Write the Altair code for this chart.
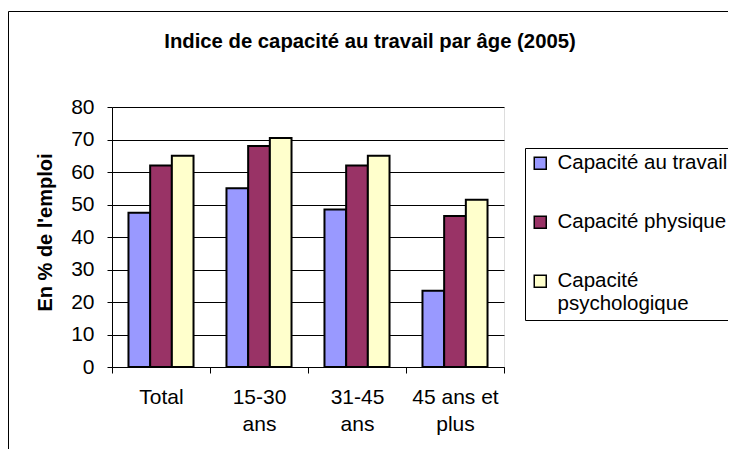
import altair as alt
import pandas as pd

categories = ["Total", "15-30 ans", "31-45 ans", "45 ans et plus"]
series = ["Capacité au travail", "Capacité physique", "Capacité psychologique"]
travail = [47.5, 55, 48.5, 23.5]
physique = [62, 68, 62, 46.5]
psycho = [65, 70.5, 65, 51.5]
colors = ["#9999FF", "#993366", "#FFFFCC"]
y_ticks = [0, 10, 20, 30, 40, 50, 60, 70, 80]

rows = []
for s, vals in zip(series, [travail, physique, psycho]):
    for c, v in zip(categories, vals):
        rows.append({"cat": c, "serie": s, "val": v})
df = pd.DataFrame(rows)

FONT = "Liberation Sans"
FS = 21

bars = alt.Chart(df).mark_bar(stroke="black", strokeWidth=2).encode(
    x=alt.X("cat:N", sort=categories, title=None,
            scale=alt.Scale(paddingInner=0, paddingOuter=0),
            axis=alt.Axis(labelAngle=0, tickBand="extent", tickSize=6, labelPadding=13,
                          labelFontSize=FS, labelFont=FONT, labelColor="black",
                          domainColor="black", tickColor="black", labelLineHeight=27,
                          labelExpr="datum.label == '15-30 ans' ? ['15-30','ans'] : datum.label == '31-45 ans' ? ['31-45','ans'] : datum.label == '45 ans et plus' ? ['45 ans et','plus'] : datum.label")),
    xOffset=alt.XOffset("serie:N", sort=series,
                        scale=alt.Scale(paddingOuter=0.76, paddingInner=0)),
    y=alt.Y("val:Q", title="En % de l'emploi",
            scale=alt.Scale(domain=[0, 80], nice=False),
            axis=alt.Axis(values=y_ticks, tickSize=5, labelPadding=13,
                          labelFontSize=FS, labelFont=FONT, labelColor="black",
                          titleFontSize=20, titleFont=FONT, titleFontWeight="bold",
                          titleColor="black", titleX=-57, titleY=125,
                          domainColor="black", tickColor="black",
                          grid=True, gridColor="black", gridWidth=1, gridOpacity=1)),
    color=alt.Color("serie:N", sort=series,
                    scale=alt.Scale(domain=series, range=colors),
                    legend=alt.Legend(title=None, orient="none", legendX=413, legendY=41,
                                      labelFontSize=20.5, labelFont=FONT, labelColor="black",
                                      symbolType="square", symbolSize=144,
                                      symbolStrokeColor="black", symbolStrokeWidth=1.5,
                                      labelLimit=400, labelOffset=7, rowPadding=38,
                                      padding=5, strokeColor="black", fillColor="white",
                                      labelExpr="datum.label == 'Capacité psychologique' ? ['Capacité', 'psychologique'] : datum.label")),
)

border_v = alt.Chart(pd.DataFrame({"a": [0]})).mark_rule(color="black", strokeWidth=1).encode(
    x=alt.value(-103.5), y=alt.value(-95.5), y2=alt.value(400))
border_h = alt.Chart(pd.DataFrame({"a": [0]})).mark_rule(color="black", strokeWidth=1).encode(
    x=alt.value(-103.5), x2=alt.value(700), y=alt.value(-95.5))

chart = alt.layer(bars, border_v, border_h).properties(
    width=392, height=260,
    title=alt.TitleParams("Indice de capacité au travail par âge (2005)", font=FONT,
                          fontSize=20.3, fontWeight="bold", color="black",
                          anchor="middle", dx=62, offset=-41),
    autosize=alt.AutoSizeParams(type="none"),
    padding={"left": 104, "top": 99, "right": 224, "bottom": 82},
).configure_view(fill="#C0C0C0", stroke="#808080", strokeWidth=2).configure(background="white")

chart.save("out.html", embed_options={"renderer": "svg", "actions": False})
